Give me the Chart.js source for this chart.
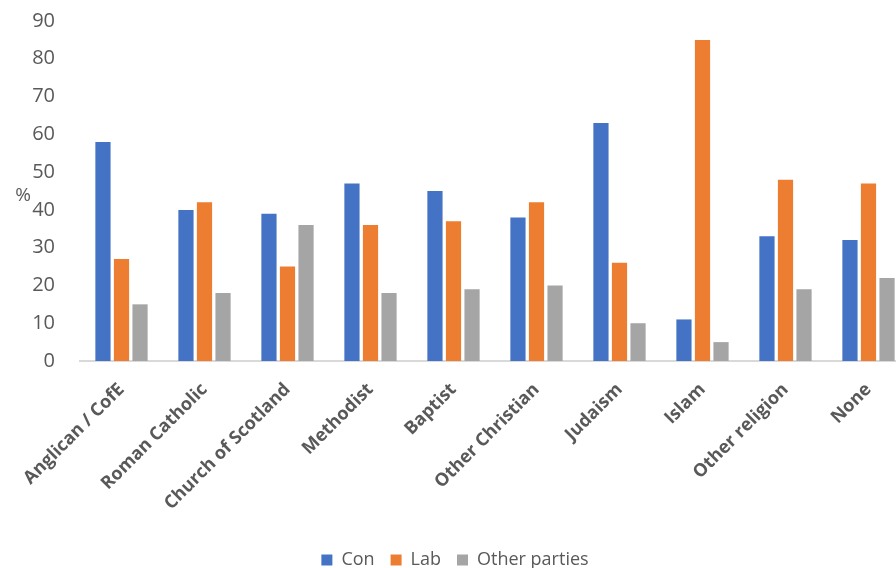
<!DOCTYPE html>
<html>
<head>
<meta charset="utf-8">
<script src="https://cdn.jsdelivr.net/npm/chart.js@4"></script>
<style>
    html, body { margin: 0; padding: 0; background: #fff; overflow: hidden; }
    #wrap { width: 912px; height: 568px; position: relative; }
</style>
</head>
<body>
<div id="wrap"><canvas id="religionChart"></canvas></div>
<script>
const categories = ["Anglican / CofE", "Roman Catholic", "Church of Scotland", "Methodist", "Baptist",
    "Other Christian", "Judaism", "Islam", "Other religion", "None"];
const conValues = [58, 40, 39, 47, 45, 38, 63, 11, 33, 32];
const labValues = [27, 42, 25, 36, 37, 42, 26, 85, 48, 47];
const otherValues = [15, 18, 36, 18, 19, 20, 10, 5, 19, 22];
const yTicks = [0, 10, 20, 30, 40, 50, 60, 70, 80, 90];

const textColor = "#595959";
const fontFamily = "'Open Sans', 'Noto Sans', sans-serif";

// "%" sits horizontally left of the y axis, so draw it by hand
const percentLabel = {
    id: "percentLabel",
    afterDraw(chart) {
        const ctx = chart.ctx;
        const y = chart.scales.y.getPixelForValue(45);
        ctx.save();
        ctx.fillStyle = textColor;
        ctx.font = "19px " + fontFamily;
        ctx.textAlign = "center";
        ctx.textBaseline = "middle";
        ctx.fillText("%", 23, y + 5);
        ctx.restore();
    }
};

function makeDataset(label, data, color) {
    return {
        label: label,
        data: data,
        backgroundColor: color,
        borderWidth: 0,
        categoryPercentage: 0.67,
        barPercentage: 0.82
    };
}

new Chart(document.getElementById("religionChart"), {
    type: "bar",
    data: {
        labels: categories,
        datasets: [
            makeDataset("Con", conValues, "#4472C4"),
            makeDataset("Lab", labValues, "#ED7D31"),
            makeDataset("Other parties", otherValues, "#A5A5A5")
        ]
    },
    options: {
        responsive: true,
        maintainAspectRatio: false,
        animation: false,
        layout: { padding: { top: 21, right: 2, bottom: -11, left: 0 } },
        scales: {
            x: {
                grid: { display: false },
                border: { display: true, color: "#d9d9d9", width: 2 },
                ticks: {
                    color: textColor,
                    font: { family: fontFamily, size: 18, weight: "bold" },
                    minRotation: 45,
                    maxRotation: 45,
                    padding: 10
                },
                afterFit(scale) { scale.height = 174; }
            },
            y: {
                min: 0,
                max: 90,
                afterBuildTicks(scale) { scale.ticks = yTicks.map(v => ({ value: v })); },
                grid: { display: false },
                border: { display: false },
                ticks: {
                    color: textColor,
                    font: { family: fontFamily, size: 20 },
                    padding: 17
                },
                afterFit(scale) {
                    scale.width = 80;
                    scale.paddingTop = 0;
                }
            }
        },
        plugins: {
            legend: {
                position: "bottom",
                labels: {
                    color: textColor,
                    font: { family: fontFamily, size: 18 },
                    boxWidth: 11,
                    boxHeight: 11,
                    padding: 16
                }
            },
            tooltip: { enabled: false }
        }
    },
    plugins: [percentLabel]
});
</script>
</body>
</html>
